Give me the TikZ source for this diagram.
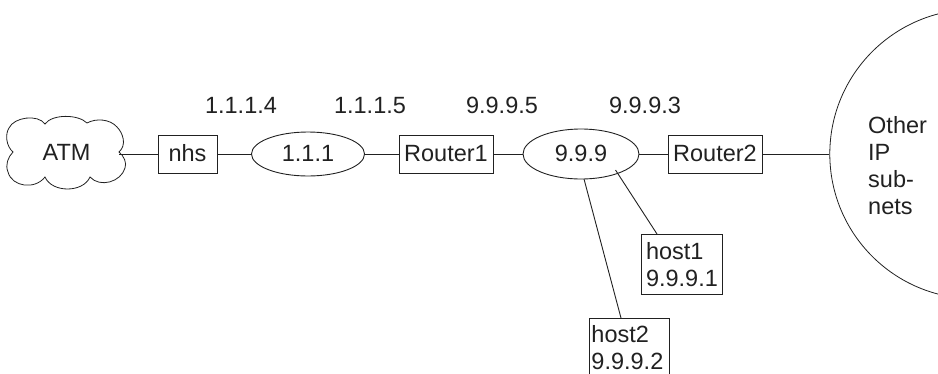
\documentclass[tikz,border=0pt]{standalone}
\usepackage{fontspec}
\setmainfont{Liberation Sans}
\usetikzlibrary{shapes.geometric}
\definecolor{ink}{gray}{0.13}
\tikzset{
  x=1pt,y=-1pt,
  lab/.style={font=\fontsize{23.5}{27}\selectfont,text=ink,inner sep=0pt},
  boxn/.style={draw=ink,line width=0.9pt,rectangle,font=\fontsize{23.5}{27}\selectfont,text=ink,inner sep=0pt,anchor=center,text height=16,text depth=2},
  ell/.style={draw=ink,line width=0.9pt,ellipse,inner sep=0pt,font=\fontsize{23.5}{27}\selectfont,text=ink,text height=16,text depth=2},
  link/.style={draw=ink,line width=0.9pt},
  hostbox/.style={draw=ink,line width=0.9pt,rectangle,text=ink,inner sep=0pt,align=left,font=\fontsize{23.5}{27}\selectfont}
}
\begin{document}
\begin{tikzpicture}
\useasboundingbox (0,0) rectangle (938,373);
\clip (0,0) rectangle (938,373);
% cloud
\draw[ink,line width=0.8pt] (45,124) .. controls (52,114) and (78,114) .. (87,123)
 .. controls (96,118) and (110,119) .. (117,127)
 .. controls (123,133) and (127,145) .. (119,152)
 .. controls (124,156) and (127,163) .. (125,168)
 .. controls (121,182) and (100,188) .. (90,177)
 .. controls (83,193) and (52,193) .. (45,177)
 .. controls (35,190) and (12,187) .. (8,172)
 .. controls (5,165) and (8,157) .. (13,152)
 .. controls (6,146) and (5,134) .. (9,128)
 .. controls (14,117) and (38,114) .. (45,124) -- cycle;
\coordinate (atmedge) at (119,154);
\node[lab] (atm) at (66.5,152.5) {ATM};
\node[boxn,minimum width=59,minimum height=38] (nhs) at (187.5,154) {nhs};
\node[ell,minimum width=113,minimum height=44] (n111) at (308,154) {1.1.1};
\node[boxn,minimum width=94,minimum height=38] (r1) at (446,154) {Router1};
\node[ell,minimum width=116,minimum height=50] (n999) at (581,154) {9.9.9};
\node[boxn,minimum width=94,minimum height=38] (r2) at (715,154) {Router2};
\node[draw=ink,line width=0.8pt,circle,inner sep=0pt,minimum size=289.4] (big) at (974.5,154) {};
\node[hostbox,minimum width=81,minimum height=60,text width=71,text height=19] (h1) at (681.5,264) {host1\\9.9.9.1};
\node[hostbox,minimum width=80,minimum height=58,text width=76,anchor=north west] (h2) at (589,318) {host2\\9.9.9.2};
\coordinate (h1t) at (657,234);
\coordinate (h2t) at (621,318);
\coordinate (a1) at (615.5,170);
\coordinate (a2) at (584,179);
\node[lab,anchor=base] (l1) at (241,113) {1.1.1.4};
\node[lab,anchor=base] (l2) at (370,113) {1.1.1.5};
\node[lab,anchor=base] (l3) at (502,113) {9.9.9.5};
\node[lab,anchor=base] (l4) at (645,113) {9.9.9.3};
\node[lab,align=left,anchor=north west] (oth) at (868,116.5) {Other\\IP\\sub-\\nets};
\draw[link] (atmedge) -- (nhs.west);
\draw[link] (nhs.east) -- (n111.west);
\draw[link] (n111.east) -- (r1.west);
\draw[link] (r1.east) -- (n999.west);
\draw[link] (n999.east) -- (r2.west);
\draw[link] (r2.east) -- (big.west);
\draw[link] (a1) -- (h1t);
\draw[link] (a2) -- (h2t);
\end{tikzpicture}
\end{document}
